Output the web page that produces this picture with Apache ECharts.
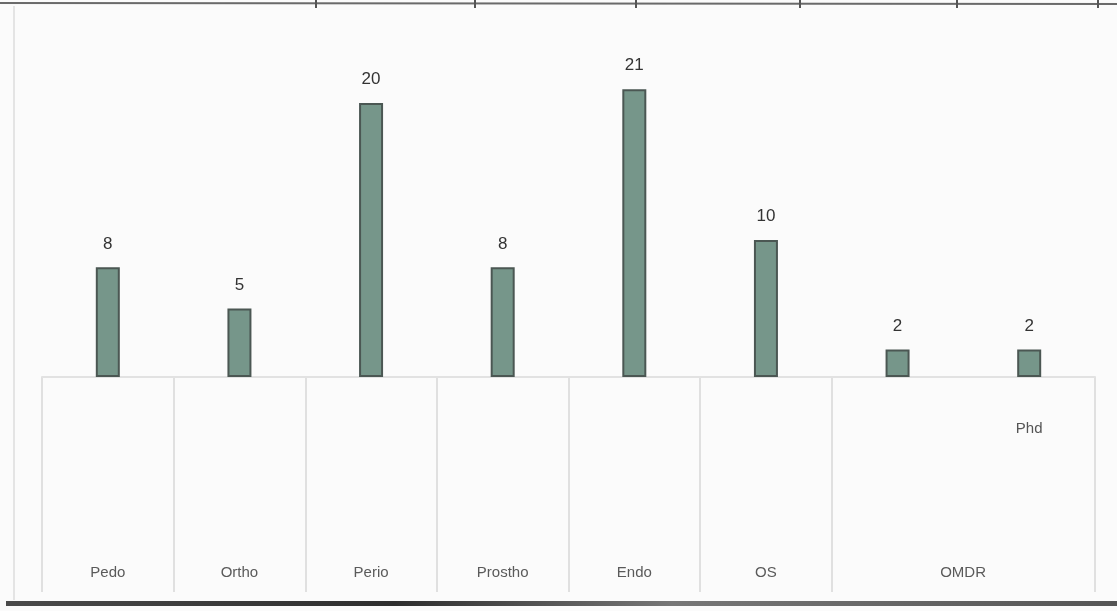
<!DOCTYPE html>
<html>
<head>
<meta charset="utf-8">
<script src="https://cdn.jsdelivr.net/npm/echarts@6/dist/echarts.min.js"></script>
<style>
html,body{margin:0;padding:0;background:#fbfbfb;}
#c{width:1117px;height:611px;}
</style>
</head>
<body>
<div id="c"></div>
<script>
// Data
const categories = ['Pedo', 'Ortho', 'Perio', 'Prostho', 'Endo', 'OS', 'OMDR', 'Phd'];
const values = [8, 5, 20, 8, 21, 10, 2, 2];
// Multi-level axis labels: inner level (only Phd) and outer level (OMDR spans last two)
const innerLabels = ['', '', '', '', '', '', '', 'Phd'];
const outerLabels = ['Pedo', 'Ortho', 'Perio', 'Prostho', 'Endo', 'OS', 'OMDR', ''];
const topTicksX = [316, 475, 636, 800, 957, 1098];

const chart = echarts.init(document.getElementById('c'), null, {renderer: 'canvas'});
const labelFont = '"Liberation Sans", "DejaVu Sans", sans-serif';

const graphics = [
  {type: 'line', shape: {x1: 0, y1: 3, x2: 1117, y2: 4}, style: {stroke: '#6a6a6a', lineWidth: 2}, silent: true},
  {type: 'line', shape: {x1: 14, y1: 6, x2: 14, y2: 600}, style: {stroke: '#e4e4e4', lineWidth: 2}, silent: true},
  {type: 'rect', shape: {x: 6, y: 601, width: 1111, height: 5}, style: {
    fill: new echarts.graphic.LinearGradient(0, 0, 1, 0, [
      {offset: 0, color: '#4a4a4a'}, {offset: 0.35, color: '#2e2e2e'},
      {offset: 0.6, color: '#777'}, {offset: 1, color: '#555'}])
  }, silent: true}
];
topTicksX.forEach(x => graphics.push({type: 'line', shape: {x1: x, y1: 0, x2: x, y2: 8}, style: {stroke: '#555', lineWidth: 2}, silent: true}));

chart.setOption({
  backgroundColor: '#fbfbfb',
  animation: false,
  grid: [
    {left: 42, right: 22, top: 7, height: 370},
    {left: 42, right: 22, top: 377, bottom: 19}
  ],
  xAxis: [
    {
      type: 'category', gridIndex: 0, data: innerLabels,
      axisLine: {show: true, lineStyle: {color: '#e2e2e2', width: 2}},
      axisTick: {show: false},
      axisLabel: {margin: 44, color: '#555', fontSize: 15, fontFamily: labelFont, interval: 0}
    },
    {
      type: 'category', gridIndex: 1, data: outerLabels.map((v, i) => i === 6 ?
        {value: v, textStyle: {padding: [0, 0, 0, 131]}} : v),
      axisLine: {show: false},
      axisTick: {show: false},
      splitLine: {show: true, interval: function (i) { return i !== 7; }, lineStyle: {color: '#e0e0e0', width: 2}},
      axisLabel: {inside: true, margin: 12, color: '#5a5a5a', fontSize: 15, fontFamily: labelFont, interval: 0}
    }
  ],
  yAxis: [
    {type: 'value', gridIndex: 0, min: 0, max: 27, show: false, splitLine: {show: false}},
    {type: 'value', gridIndex: 1, show: false, splitLine: {show: false}}
  ],
  series: [{
    type: 'bar', xAxisIndex: 0, yAxisIndex: 0,
    data: values, barWidth: 24,
    itemStyle: {color: '#76968a', borderColor: '#4b5753', borderWidth: 2},
    label: {show: true, position: 'top', distance: 15, color: '#333', fontSize: 17, fontFamily: labelFont}
  }],
  graphic: graphics
});
</script>
</body>
</html>
